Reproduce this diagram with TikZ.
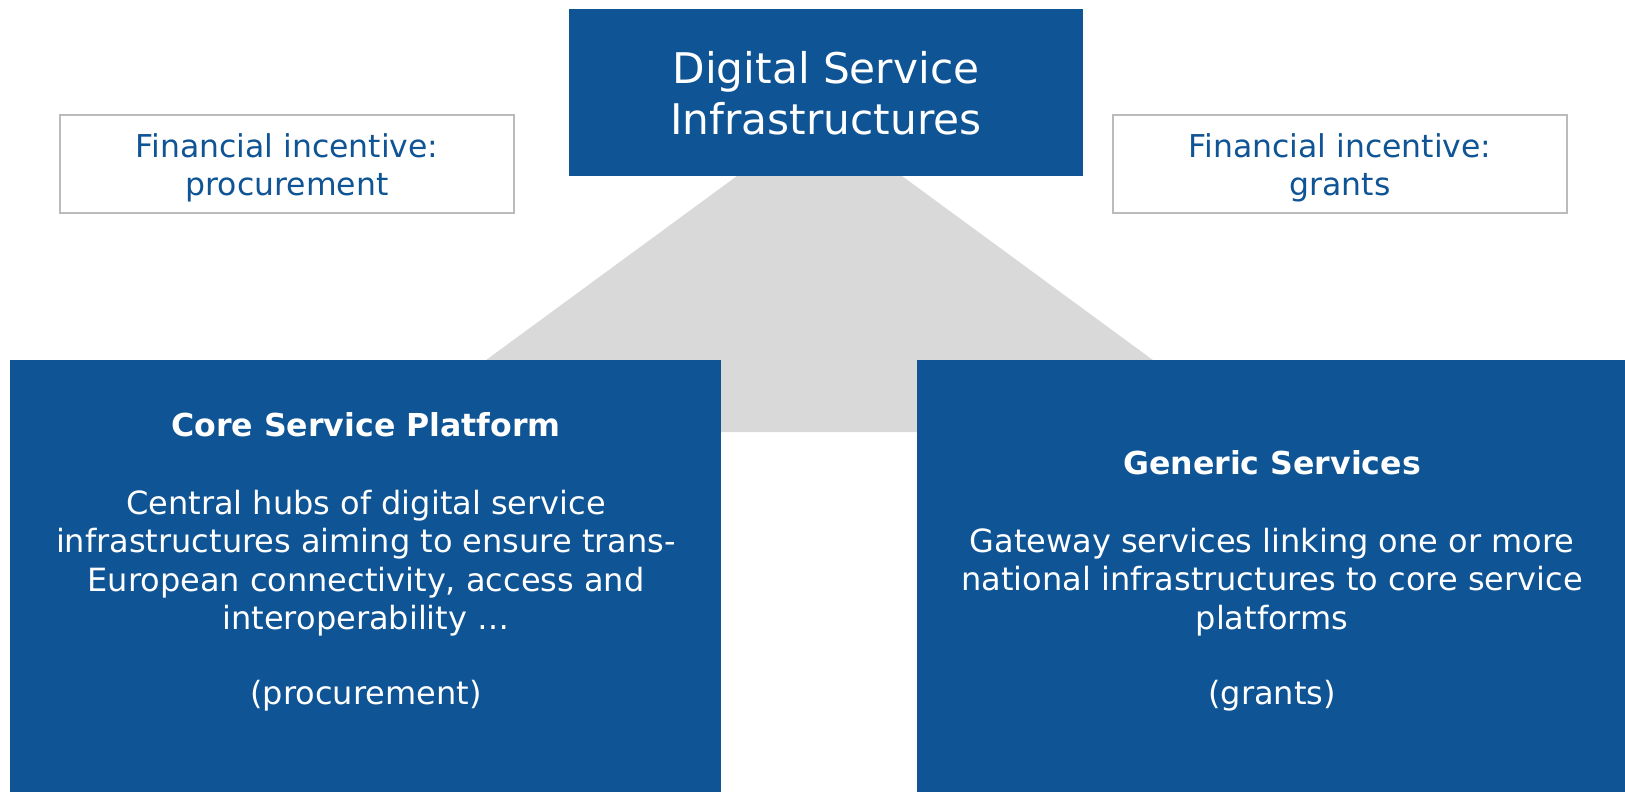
\documentclass[tikz,border=0pt]{standalone}
\usepackage{fontspec}
\setmainfont{DejaVu Sans}
\definecolor{dsiblue}{HTML}{0F5494}
\definecolor{trapgrey}{HTML}{D9D9D9}
\definecolor{edgegrey}{HTML}{BBBBBB}
\tikzset{
  bluebox/.style={fill=dsiblue, draw=none, inner sep=0pt, outer sep=0pt, anchor=north west},
  incbox/.style={fill=white, draw=edgegrey, line width=1.1pt, inner sep=0pt, outer sep=0pt, anchor=north west,
     minimum width=340.5pt, minimum height=73.5pt},
  inctext/.style={text=dsiblue, align=center, inner sep=0pt, font=\fontsize{23.6}{28.7}\selectfont},
  toptext/.style={text=white, align=center, inner sep=0pt, font=\fontsize{31.7}{38.2}\selectfont},
  titletext/.style={text=white, align=center, inner sep=0pt, font=\fontsize{23.7}{28.8}\selectfont\bfseries},
  bodytext/.style={text=white, align=center, inner sep=0pt, font=\fontsize{24}{28.8}\selectfont}
}
\begin{document}
\begin{tikzpicture}[x=0.75pt,y=-0.75pt]
\useasboundingbox (0,0) rectangle (1625,792);
% grey connecting trapezoid
\fill[trapgrey] (737,176) -- (902,176) -- (1251,432) -- (388,432) -- cycle;
% top box
\node[bluebox, minimum width=385.5pt, minimum height=125.25pt] (top) at (569,9) {};
\node[toptext] (toplbl) at (826,93) {Digital Service\\Infrastructures};
% incentive boxes
\node[incbox] (incl) at (60,115) {};
\node[inctext] (incltxt) at (287,168) {Financial incentive:\\procurement};
\node[incbox] (incr) at (1113,115) {};
\node[inctext] (incrtxt) at (1340,168) {Financial incentive:\\grants};
% big boxes
\node[bluebox, minimum width=533.25pt, minimum height=324pt] (core) at (10,360) {};
\node[bluebox, minimum width=531pt, minimum height=324pt] (gen) at (917,360) {};
% core text
\node[titletext] (coretitle) at (366,425) {Core Service Platform};
\node[bodytext] (corebody) at (366,563) {Central hubs of digital service\\infrastructures aiming to ensure trans-\\European connectivity, access and\\interoperability \dots};
\node[bodytext] (coretag) at (366,696) {(procurement)};
% generic text
\node[titletext] (gentitle) at (1272,463) {Generic Services};
\node[bodytext] (genbody) at (1272,582) {Gateway services linking one or more\\national infrastructures to core service\\platforms};
\node[bodytext] (gentag) at (1272,696) {(grants)};
\end{tikzpicture}
\end{document}
